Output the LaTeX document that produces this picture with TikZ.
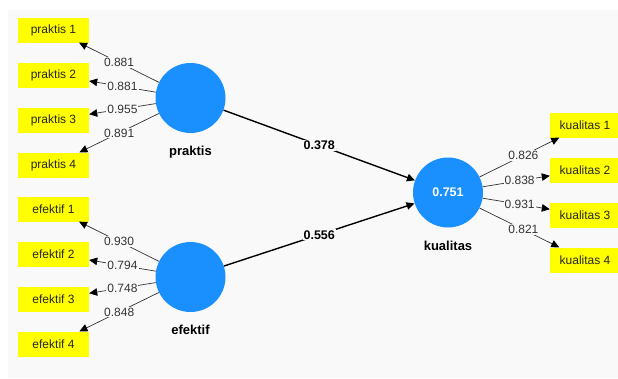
\documentclass[tikz,border=0pt]{standalone}
\usepackage{fontspec}
\setmainfont{Liberation Sans}
\usetikzlibrary{arrows.meta, positioning}

\definecolor{panelgray}{HTML}{F9F9F9}
\definecolor{lvblue}{HTML}{1A90FF}
\definecolor{mvyellow}{HTML}{FFFF00}
\definecolor{numgray}{HTML}{333333}

\begin{document}
\begin{tikzpicture}[x=1pt, y=-1pt, >={Triangle[length=8pt,width=7.5pt,color=black]},
    font=\fontsize{12}{14}\selectfont,
    lv/.style={circle, fill=lvblue, minimum size=70pt, inner sep=0pt, text=white, font=\fontsize{12.5}{14}\selectfont\bfseries},
    lvname/.style={inner sep=0pt, font=\fontsize{13}{15}\selectfont\bfseries},
    mv/.style={rectangle, fill=mvyellow, minimum width=71pt, minimum height=25pt, inner sep=0pt, text=black!85},
    loading/.style={draw=black!80, line width=0.7pt, ->},
    path/.style={draw=black, line width=1.4pt, ->},
    wt/.style={fill=panelgray, inner sep=1pt, text=numgray},
    coef/.style={fill=panelgray, inner sep=1pt, font=\fontsize{12.5}{14}\selectfont\bfseries}]
    \useasboundingbox (0,0) rectangle (618,378);
    \fill[panelgray] (8,10) rectangle (618,378);

    % latent variables
    \node[lv] (praktis) at (190.5,98) {};
    \node[lv] (efektif) at (190.5,277) {};
    \node[lv] (kualitas) at (448,192.5) {0.751};
    \node[lvname, below=13pt of praktis] (praktisname) {praktis};
    \node[lvname, below=13pt of efektif] (efektifname) {efektif};
    \node[lvname, below=13pt of kualitas] (kualitasname) {kualitas};

    % indicators
    \foreach \i/\w in {1/0.881, 2/0.881, 3/0.955, 4/0.891} {%
        \node[mv] (p\i) at (53.5,{30+45*(\i-1)}) {praktis \i};
        \draw[loading] (praktis) -- node[wt] {\w} (p\i);
    }
    \foreach \i/\w in {1/0.930, 2/0.794, 3/0.748, 4/0.848} {%
        \node[mv] (e\i) at (53.5,{209+45*(\i-1)}) {efektif \i};
        \draw[loading] (efektif) -- node[wt] {\w} (e\i);
    }
    \foreach \i/\w in {1/0.826, 2/0.838, 3/0.931, 4/0.821} {%
        \node[mv, minimum width=70pt] (k\i) at (585,{125+45*(\i-1)}) {kualitas \i};
        \draw[loading] (kualitas) -- node[wt, pos=0.55] {\w} (k\i);
    }

    % structural paths
    \draw[path] (praktis) -- node[coef] {0.378} (kualitas);
    \draw[path] (efektif) -- node[coef] {0.556} (kualitas);
\end{tikzpicture}
\end{document}
